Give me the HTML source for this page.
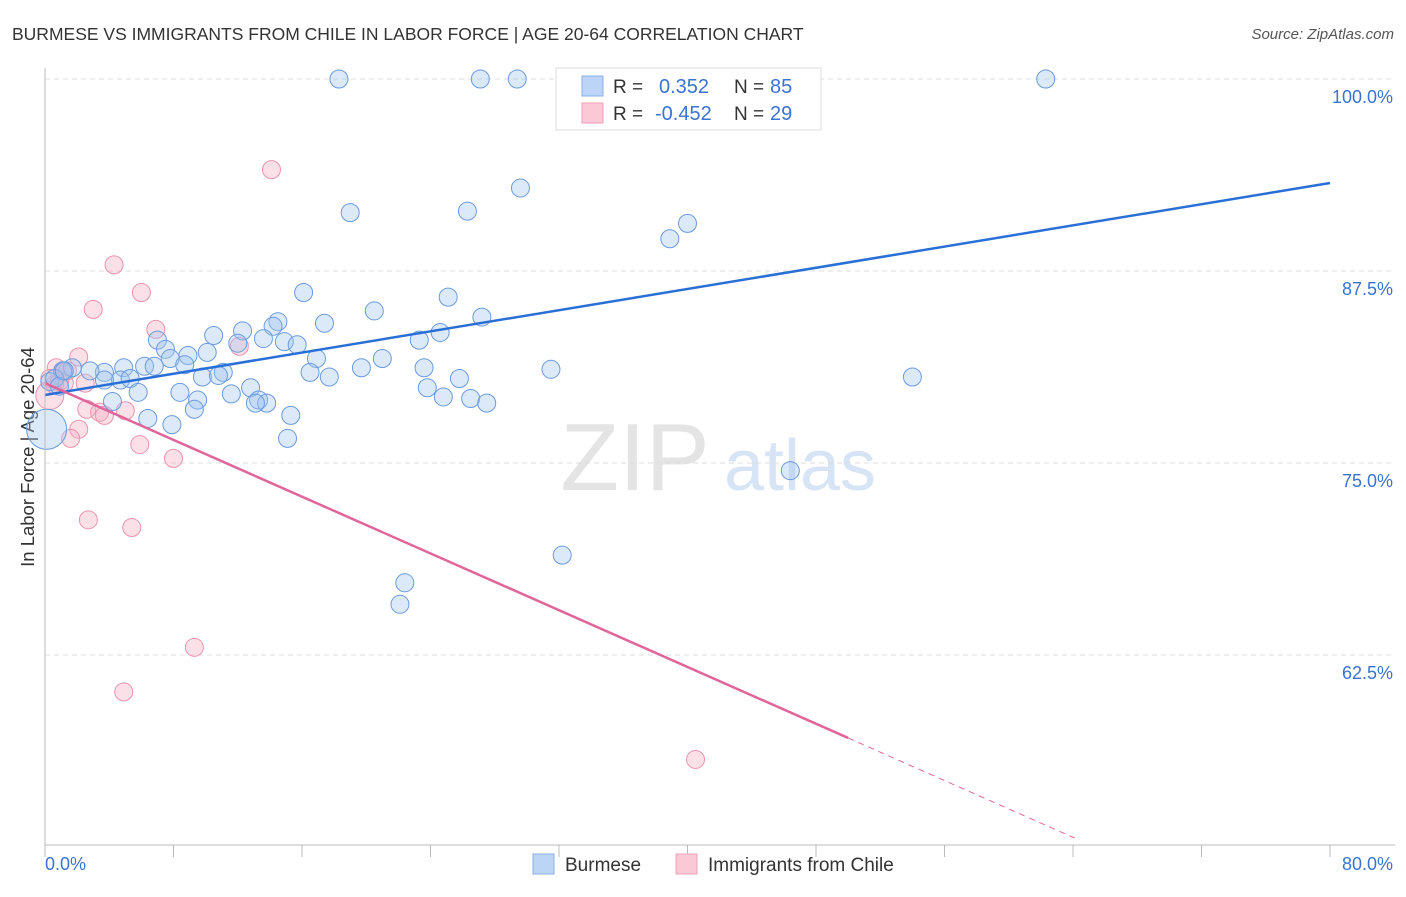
<!DOCTYPE html>
<html><head><meta charset="utf-8"><style>
body{margin:0;background:#fff;font-family:"Liberation Sans",sans-serif}
svg text{font-family:"Liberation Sans",sans-serif}
</style></head><body>
<svg id="c" width="1406" height="892">
<text x="12" y="40" font-size="17.5" fill="#333">BURMESE VS IMMIGRANTS FROM CHILE IN LABOR FORCE | AGE 20-64 CORRELATION CHART</text>
<text x="1394" y="39" font-size="15" fill="#555" text-anchor="end" font-style="italic">Source: ZipAtlas.com</text>
<text x="34" y="457" font-size="18.5" fill="#333" text-anchor="middle" transform="rotate(-90 34 457)">In Labor Force | Age 20-64</text>
<g><text x="635" y="490" font-size="96" fill="#e4e4e4" font-family="Liberation Serif" text-anchor="middle">ZIP</text><text x="800" y="490" font-size="72" fill="#d6e4f5" text-anchor="middle">atlas</text></g>
<g id="grid"></g><g id="marks"></g><g id="axes"></g>
<g>
<rect x="556" y="68" width="265" height="62" fill="#fff" stroke="#ddd"/>
<rect x="582" y="76" width="21" height="20" fill="#bcd5f7" stroke="#8ab0e8"/>
<rect x="582" y="103" width="21" height="20" fill="#fbc8d6" stroke="#f0a0b8"/>
<text x="613" y="93" font-size="19" fill="#333">R =</text><text x="659" y="93" font-size="20" fill="#3a73d0">0.352</text>
<text x="734" y="93" font-size="19" fill="#333">N =</text><text x="770" y="93" font-size="20" fill="#3a73d0">85</text>
<text x="613" y="120" font-size="19" fill="#333">R =</text><text x="655" y="120" font-size="20" fill="#3a73d0">-0.452</text>
<text x="734" y="120" font-size="19" fill="#333">N =</text><text x="770" y="120" font-size="20" fill="#3a73d0">29</text>
</g>
<g>
<rect x="533" y="854" width="21" height="20" fill="#bcd5f7" stroke="#8ab0e8"/>
<text x="565" y="871" font-size="19" fill="#333">Burmese</text>
<rect x="676" y="854" width="21" height="20" fill="#fbc8d6" stroke="#f0a0b8"/>
<text x="708" y="871" font-size="19" fill="#333">Immigrants from Chile</text>
</g>
</svg>
<script>
const yTicks=[100,87.5,75,62.5];
const yTickLabels=["100.0%","87.5%","75.0%","62.5%"];
const xEndLabels=["0.0%","80.0%"];
const burmeseX=[18.3,27.1,29.4,62.3,37.7,29.6,19.0,26.3,40.0,38.9,16.1,25.1,20.5,27.2,17.4,14.5,14.2,10.5,12.3,13.6,12.0,14.9,15.7,23.3,24.6,7.0,7.5,8.9,10.1,7.8,16.9,21.0,19.7,6.2,6.8,4.9,8.7,31.5,23.6,16.5,17.7,54.0,11.1,9.8,10.8,3.7,2.8,1.7,1.1,4.7,3.7,5.3,5.8,8.4,12.8,11.6,23.8,25.8,24.8,26.5,27.5,9.5,4.2,13.3,13.8,13.1,9.3,15.3,6.4,7.9,15.1,46.4,32.2,22.4,22.1,0.3,0.6,0.9,1.2,0.1];
const burmeseY=[100,100,100,100,97.4,92.9,91.3,91.4,90.6,89.6,86.1,85.8,84.9,84.5,84.1,84.2,83.9,83.3,83.6,83.1,82.8,82.9,82.7,83.0,83.5,83.0,82.4,82.0,82.2,81.8,81.8,81.8,81.2,81.3,81.3,81.2,81.4,81.1,81.2,80.9,80.6,80.6,80.9,80.6,80.7,80.9,81.0,81.2,81.0,80.4,80.4,80.5,79.6,79.6,79.9,79.5,79.9,80.5,79.3,79.2,78.9,79.1,79.0,79.1,78.9,78.9,78.5,78.1,77.9,77.5,76.6,74.5,69.0,67.2,65.8,80.3,80.5,80.0,81.0,77.2];
const burmeseR=[9,9,9,9,9,9,9,9,9,9,9,9,9,9,9,9,9,9,9,9,9,9,9,9,9,9,9,9,9,9,9,9,9,9,9,9,9,9,9,9,9,9,9,9,9,9,9,9,9,9,9,9,9,9,9,9,9,9,9,9,9,9,9,9,9,9,9,9,9,9,9,9,9,9,9,9,9,9,9,20];
const chileX=[14.1,4.3,6.0,3.0,6.9,12.1,2.1,0.7,1.1,1.4,0.3,0.6,2.5,0.9,2.6,3.4,5.0,3.7,2.1,1.6,5.9,8.0,2.7,5.4,9.3,4.9,40.5,0.3,1.2];
const chileY=[94.1,87.9,86.1,85.0,83.7,82.6,81.9,81.2,80.9,81.0,80.5,80.1,80.2,80.3,78.5,78.3,78.4,78.1,77.2,76.6,76.2,75.3,71.3,70.8,63.0,60.1,55.7,79.4,80.2];
const chileR=[9,9,9,9,9,9,9,9,9,9,9,9,9,9,9,9,9,9,9,9,9,9,9,9,9,9,9,14,9];
const blueTrend=[79.43,93.23];
const pinkTrend=[80.2,-0.462];
const pinkSolidEnd=50, pinkDashEnd=64.1;

const X=v=>45+v/80*1285, Y=v=>79+(100-v)*15.36;
const NS="http://www.w3.org/2000/svg";
function mk(t,a,p){const e=document.createElementNS(NS,t);for(const k in a)e.setAttribute(k,a[k]);p.appendChild(e);return e;}
const grid=document.getElementById('grid'),marks=document.getElementById('marks'),axes=document.getElementById('axes');
yTicks.forEach((v,i)=>{
 const l=mk('line',{x1:45,x2:1395,y1:Y(v),y2:Y(v),stroke:'#ddd','stroke-dasharray':'5,4'},grid);
 
 
 const t=mk('text',{x:1393,y:Y(v)+24,'font-size':18,fill:'#3a73d0','text-anchor':'end'},axes);
 t.textContent=yTickLabels[i];
 
 
});
let a=mk('line',{x1:45,x2:45,y1:68,y2:845,stroke:'#bbb'},axes);


a=mk('line',{x1:45,x2:1395,y1:845,y2:845,stroke:'#bbb'},axes);


for(let i=0;i<=10;i++){const tk=mk('line',{x1:X(i*8),x2:X(i*8),y1:845,y2:857,stroke:'#bbb'},axes);
 
 }
let t=mk('text',{x:45,y:870,'font-size':18,fill:'#3a73d0'},axes);t.textContent=xEndLabels[0];


t=mk('text',{x:1393,y:870,'font-size':18,fill:'#3a73d0','text-anchor':'end'},axes);t.textContent=xEndLabels[1];


chileX.forEach((x,i)=>{const c=mk('circle',{cx:X(x),cy:Y(chileY[i]),r:chileR[i],fill:'rgba(245,165,190,0.35)',stroke:'#eb93ae','stroke-width':1},marks);
 
 });
burmeseX.forEach((x,i)=>{const c=mk('circle',{cx:X(x),cy:Y(burmeseY[i]),r:burmeseR[i],fill:'rgba(160,196,240,0.38)',stroke:'#6a9bdf','stroke-width':1},marks);
 
 });
let tl=mk('line',{x1:X(0),y1:Y(blueTrend[0]),x2:X(80),y2:Y(blueTrend[1]),stroke:'#2a6fd6','stroke-width':2.5},marks);


const py=x=>pinkTrend[0]+pinkTrend[1]*x;
tl=mk('line',{x1:X(0),y1:Y(py(0)),x2:X(pinkSolidEnd),y2:Y(py(pinkSolidEnd)),stroke:'#e0659a','stroke-width':2.5},marks);


tl=mk('line',{x1:X(pinkSolidEnd),y1:Y(py(pinkSolidEnd)),x2:X(pinkDashEnd),y2:Y(py(pinkDashEnd)),stroke:'#e0659a','stroke-width':1,'stroke-dasharray':'6,5'},marks);


</script>
</body></html>
